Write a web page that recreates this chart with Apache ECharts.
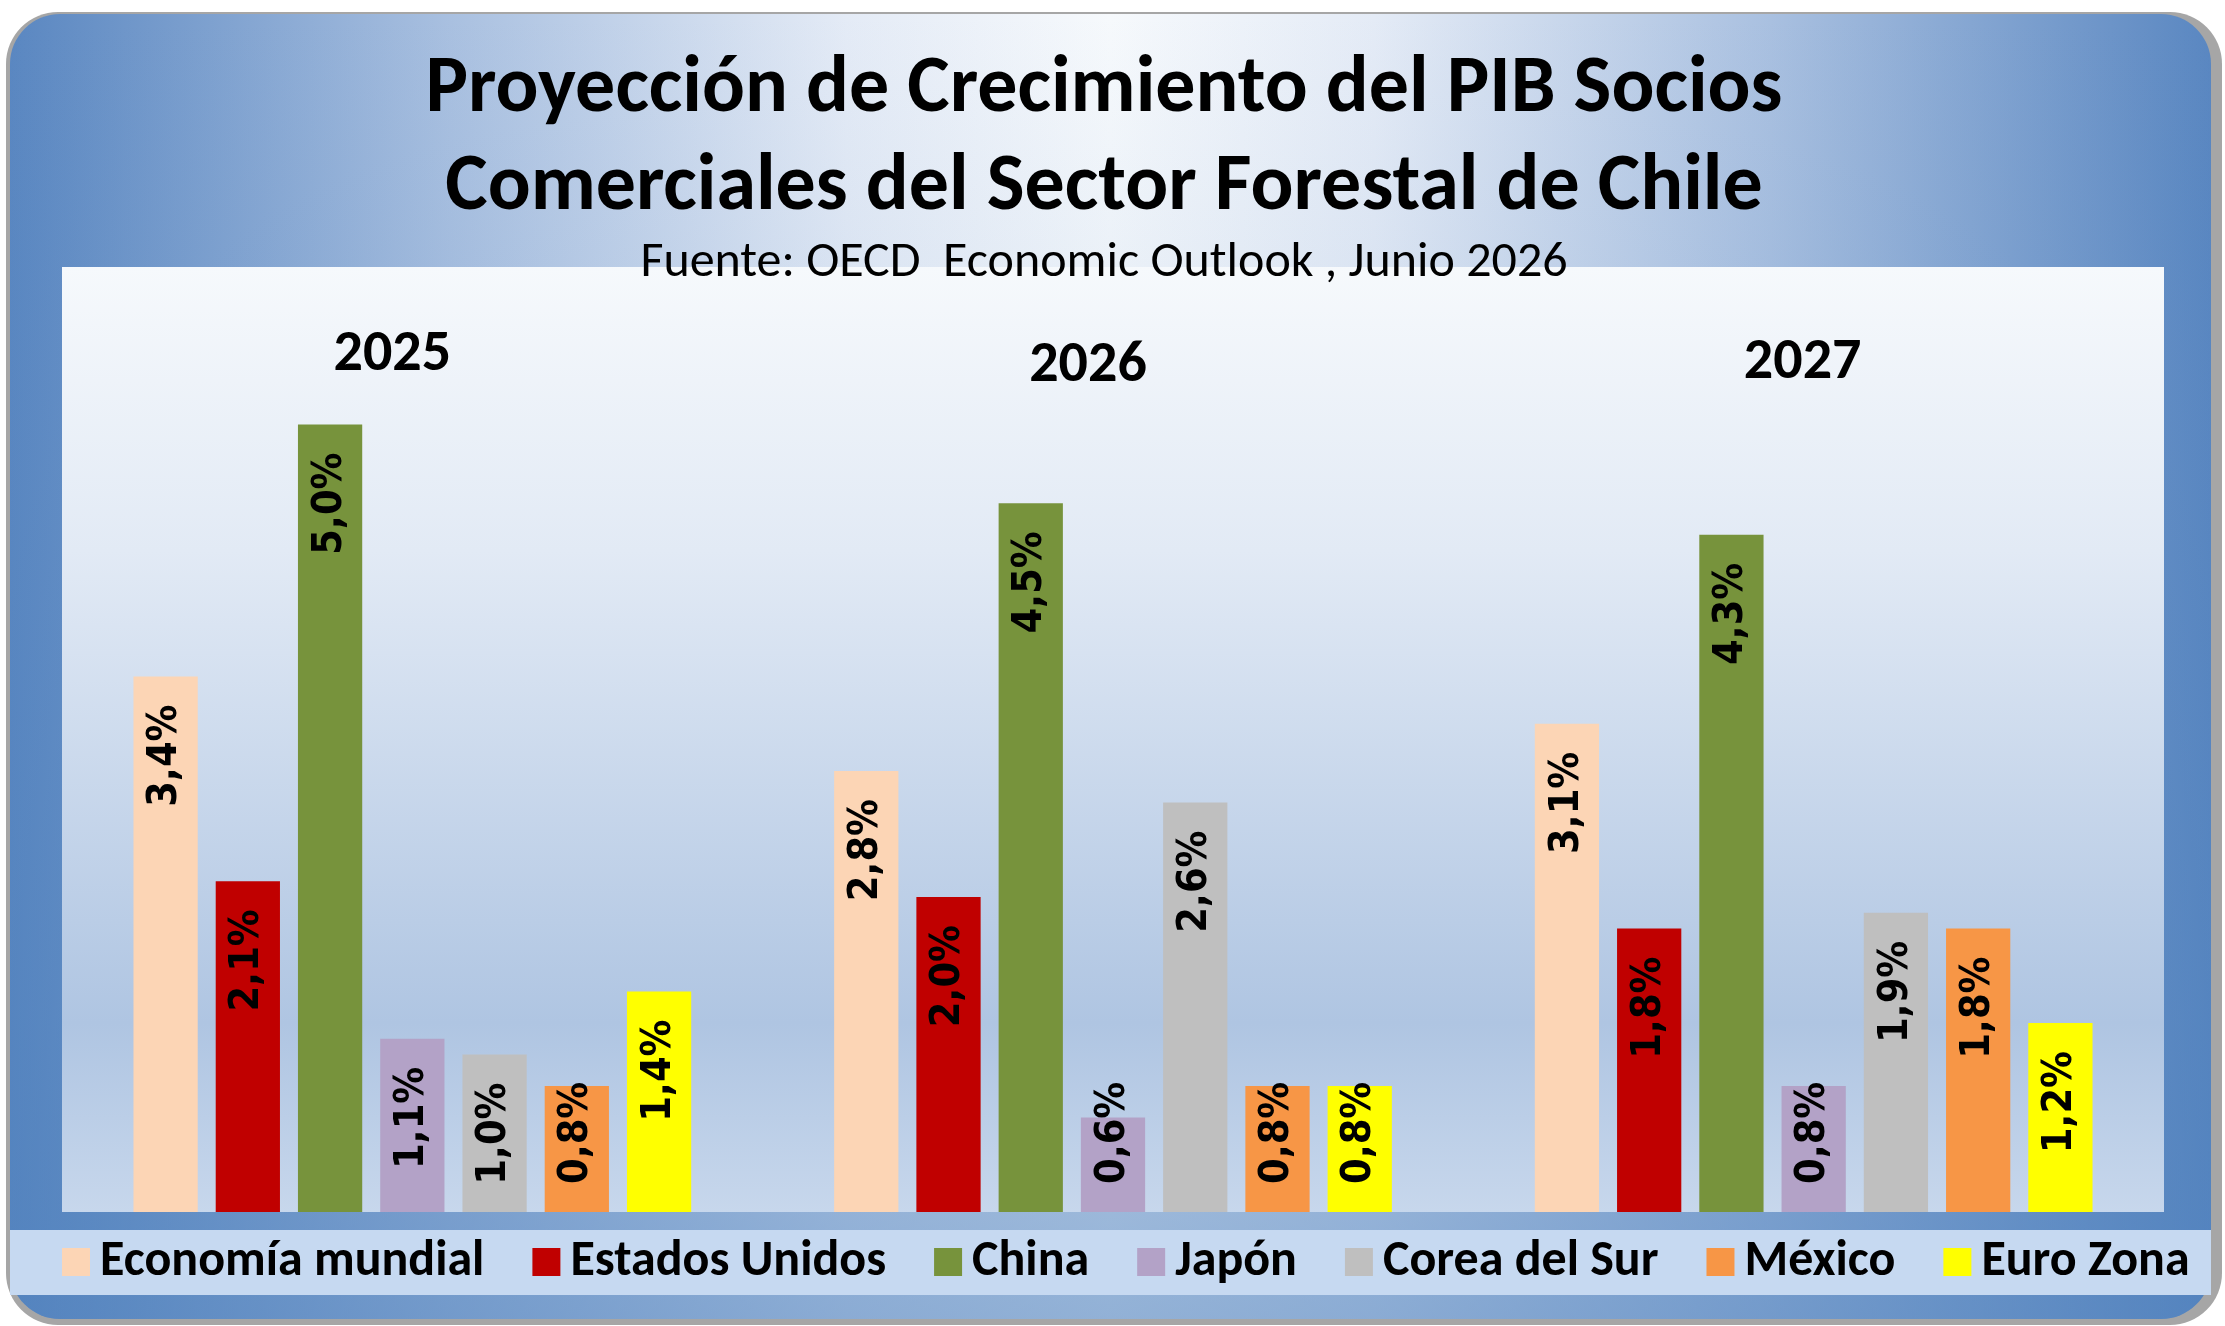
<!DOCTYPE html>
<html>
<head>
<meta charset="utf-8">
<title>Proyección de Crecimiento del PIB</title>
<script src="https://cdn.jsdelivr.net/npm/echarts@6/dist/echarts.min.js"></script>
<style>
  html, body { margin: 0; padding: 0; background: #fff; }
  #main { width: 2225px; height: 1326px; }
</style>
</head>
<body>
<div id="main"></div>
<script>
// datos (% de crecimiento del PIB)
var categories = ['2025', '2026', '2027'];
var seriesNames = ['Economía mundial', 'Estados Unidos', 'China', 'Japón', 'Corea del Sur', 'México', 'Euro Zona'];
var economiaMundial = [3.4, 2.8, 3.1];
var estadosUnidos = [2.1, 2.0, 1.8];
var china = [5.0, 4.5, 4.3];
var japon = [1.1, 0.6, 0.8];
var coreaDelSur = [1.0, 2.6, 1.9];
var mexico = [0.8, 0.8, 1.8];
var euroZona = [1.4, 0.8, 1.2];

var allValues = [economiaMundial, estadosUnidos, china, japon, coreaDelSur, mexico, euroZona];
var colors = ['#FCD5B5', '#C00000', '#77933C', '#B3A2C7', '#BFBFBF', '#F79646', '#FFFF00'];

var titleFont = 'Carlito, Lato, "Open Sans", sans-serif';
var labelFont = '"DejaVu Sans Condensed", "DejaVu Sans", sans-serif';

// barras cortas: la etiqueta se apoya abajo, las demas arriba
function labelFor(v) {
    if (v < 1.0) {
        return { position: 'insideBottom', align: 'left', distance: 28 };
    }
    return { position: 'insideTop', align: 'right', distance: 28 };
}

var series = [];
for (var i = 0; i < seriesNames.length; i++) {
    var data = [];
    for (var j = 0; j < allValues[i].length; j++) {
        data.push({ value: allValues[i][j], label: labelFor(allValues[i][j]) });
    }
    series.push({
        name: seriesNames[i],
        type: 'bar',
        barGap: '28%',
        barCategoryGap: '20.4%',
        itemStyle: { color: colors[i] },
        label: {
            show: true,
            rotate: 90,
            verticalAlign: 'middle',
            color: '#000',
            fontSize: 41,
            fontWeight: 'bold',
            fontFamily: labelFont,
            formatter: function (p) {
                return p.value.toFixed(1).replace('.', ',') + '%';
            }
        },
        data: data
    });
}

var myChart = echarts.init(document.getElementById('main'));

var option = {
    animation: false,
    color: colors,
    graphic: [
        {   // sombra gris del marco
            type: 'rect', z: -100,
            shape: { x: 6, y: 12, width: 2216, height: 1313, r: 52 },
            style: { fill: '#A6A6A6' }
        },
        {   // marco azul
            type: 'rect', z: -99,
            shape: { x: 10, y: 14, width: 2201, height: 1305, r: 50 },
            style: {
                fill: new echarts.graphic.LinearGradient(0, 0, 1, 0, [
                    { offset: 0, color: '#5A87C1' },
                    { offset: 0.2, color: '#A9C0E0' },
                    { offset: 0.38, color: '#E4EBF6' },
                    { offset: 0.5, color: '#F6F9FC' },
                    { offset: 0.62, color: '#E4EBF6' },
                    { offset: 0.8, color: '#A9C0E0' },
                    { offset: 1, color: '#5A87C1' }
                ])
            }
        },
        {
            type: 'rect', z: -98,
            shape: { x: 10, y: 14, width: 2201, height: 1305, r: 50 },
            style: {
                fill: new echarts.graphic.LinearGradient(0, 0, 0, 1, [
                    { offset: 0, color: 'rgba(79,129,189,0)' },
                    { offset: 0.35, color: 'rgba(79,129,189,0.12)' },
                    { offset: 1, color: 'rgba(79,129,189,0.6)' }
                ])
            }
        },
        {   // franja de la leyenda
            type: 'rect', z: -97,
            shape: { x: 10, y: 1230, width: 2201, height: 65 },
            style: { fill: '#C6D9F1' }
        }
    ],
    title: [
        {
            text: 'Proyección de Crecimiento del PIB Socios\nComerciales del Sector Forestal de Chile',
            left: 1104, top: 42, textAlign: 'center', padding: 0,
            textStyle: { fontSize: 80, lineHeight: 98, fontWeight: 'bold', color: '#000', fontFamily: titleFont }
        },
        {
            text: 'Fuente: OECD  Economic Outlook , Junio 2026',
            left: 1104, top: 238, textAlign: 'center', padding: 0,
            textStyle: { fontSize: 50, lineHeight: 50, fontWeight: 'normal', color: '#000', fontFamily: titleFont }
        }
    ],
    legend: {
        data: seriesNames,
        left: 57,
        top: 1232,
        icon: 'rect',
        itemWidth: 28,
        itemHeight: 28,
        itemGap: 48,
        textStyle: { fontSize: 50, fontWeight: 'bold', color: '#000', fontFamily: titleFont, padding: [0, 0, 0, 5] }
    },
    grid: {
        left: 62, right: 61, top: 267, bottom: 114,
        show: true, borderWidth: 0,
        backgroundColor: new echarts.graphic.LinearGradient(0, 0, 0, 1, [
            { offset: 0, color: '#F6F9FC' },
            { offset: 0.3, color: '#E2EAF5' },
            { offset: 0.8, color: '#AFC5E2' },
            { offset: 1, color: '#C7D7EC' }
        ])
    },
    xAxis: {
        type: 'category',
        position: 'top',
        data: [
            { value: categories[0], textStyle: { padding: [0, 40, 0, 0] } },
            { value: categories[1], textStyle: { padding: [11, 50, 0, 0] } },
            { value: categories[2], textStyle: { padding: [8, 22, 0, 0] } }
        ],
        axisLine: { show: false },
        axisTick: { show: false },
        axisLabel: {
            inside: true,
            margin: 59,
            verticalAlign: 'middle',
            fontSize: 58,
            fontWeight: 'bold',
            color: '#000',
            fontFamily: titleFont
        }
    },
    yAxis: {
        type: 'value',
        min: 0,
        max: 6,
        show: false,
        splitLine: { show: false }
    },
    series: series
};

myChart.setOption(option);
</script>
</body>
</html>
